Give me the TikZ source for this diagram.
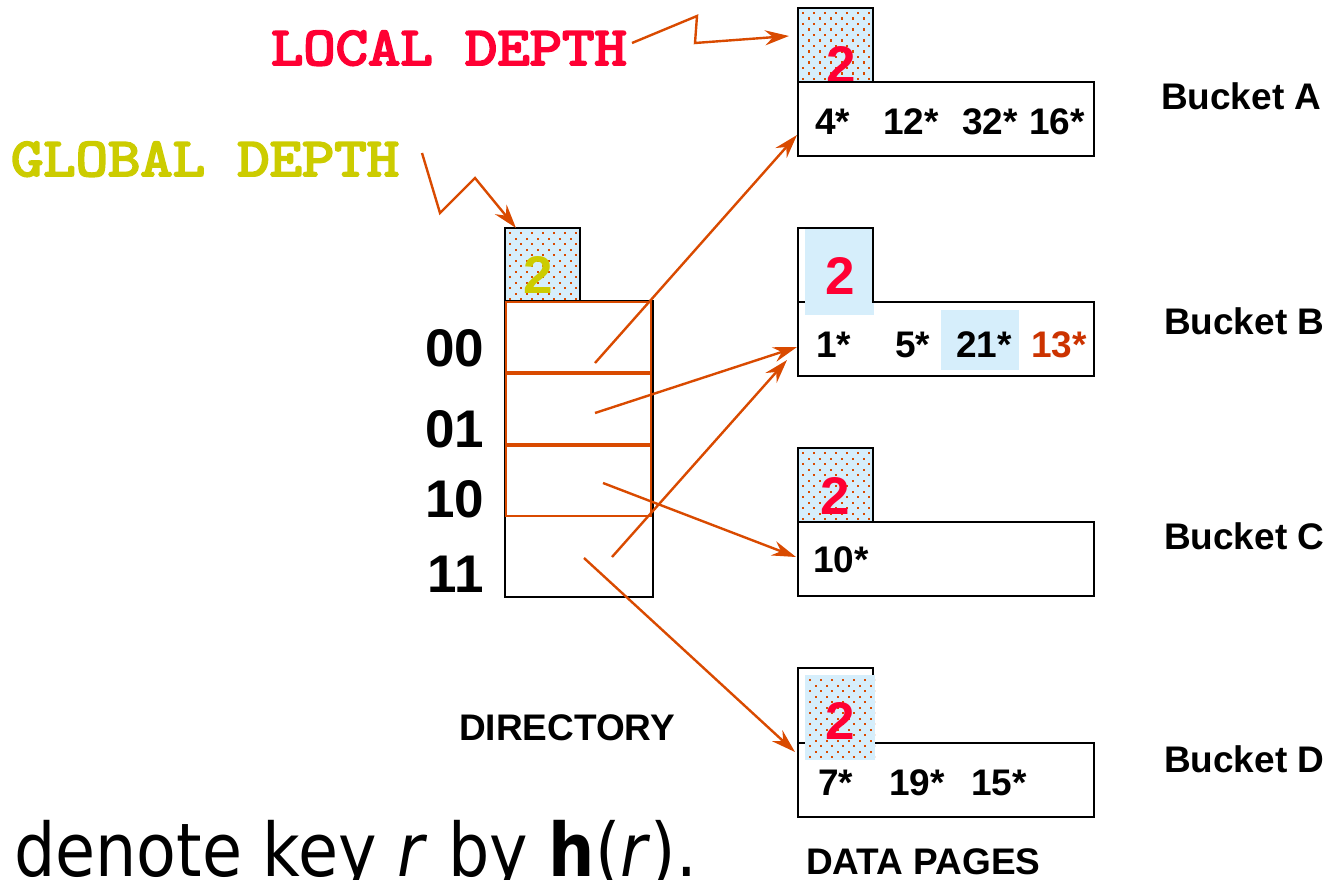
\documentclass[tikz,border=0pt]{standalone}
\usepackage{fontspec}
\setmainfont{Liberation Sans}
\newfontfamily\slidefont{DejaVu Sans}[FakeStretch=0.88,BoldFont={DejaVu Sans Bold},ItalicFont={DejaVu Sans Oblique}]
\newfontfamily\typefont{lmmono10-regular.otf}[FakeBold=3.5]
\usetikzlibrary{arrows.meta}

\definecolor{linkc}{RGB}{217,74,0}
\definecolor{depthred}{RGB}{255,0,51}
\definecolor{depthyel}{RGB}{204,204,0}
\definecolor{paleblue}{RGB}{214,238,251}
\definecolor{keyred}{RGB}{204,51,0}

% pale blue patch sprinkled with small orange dots
\newcommand\speckle[4]{%
  \fill[paleblue] (#1,#2) rectangle (#3,#4);
  \begin{scope}
    \clip (#1,#2) rectangle (#3,#4);
    \foreach \r in {0,...,17}{
      \foreach \c in {0,...,7}{
        \fill[linkc] ({#1+4+11*\c+5.5*mod(\r,2)},{#2+4+5.5*\r}) rectangle +(2.2,2.2);
      }
    }
  \end{scope}}

% wide typewriter lettering for the depth tags
\newcommand\widetag[1]{\scalebox{1.12}[1]{#1}}

\tikzset{
  link/.style={draw=linkc, line width=2.4pt, line join=miter,
    -{Stealth[length=24pt,width=15pt,inset=8pt]}},
  boxline/.style={draw=black, line width=2.5pt, line cap=rect},
  cellline/.style={draw=linkc, line width=2.5pt},
  page/.style={rectangle, draw=black, line width=2.5pt, fill=white,
    anchor=north west, minimum width=296pt, minimum height=74pt},
  dirbox/.style={rectangle, draw=black, line width=2.5pt,
    anchor=north west, minimum width=148pt, minimum height=296pt},
  depthnum/.style={font=\bfseries\fontsize{53}{56}\selectfont},
  keyval/.style={anchor=base west, font=\bfseries\fontsize{37}{40}\selectfont},
  dirlabel/.style={anchor=base east, font=\bfseries\fontsize{53}{56}\selectfont},
  caption/.style={anchor=base west, font=\bfseries\fontsize{37}{40}\selectfont},
  depthtag/.style={anchor=base west, font=\typefont\fontsize{55}{58}\selectfont},
}

\begin{document}
\begin{tikzpicture}[x=1pt,y=-1pt,every node/.style={inner sep=0pt,outer sep=0pt}]
\useasboundingbox (0,0) rectangle (1330,880);

% ---------------- directory ----------------
\speckle{505}{228}{580}{301}
\draw[boxline] (505,228) rectangle (580,301);
\node[depthnum, text=depthyel] (gdnum) at (538.5,275) {2};
\node[dirbox] (dir) at (505,301) {};
\draw[cellline] (506,302) rectangle (651,516);
\draw[cellline, line width=4pt] (506,373) -- (651,373);
\draw[cellline, line width=4pt] (506,445) -- (651,445);

\node[dirlabel] (l00) at (484,366) {00};
\node[dirlabel] (l01) at (484,447) {01};
\node[dirlabel] (l10) at (484,517) {10};
\node[dirlabel] (l11) at (484,592) {11};

\node[caption] (dircap) at (459,740) {DIRECTORY};

% ---------------- bucket A ----------------
\speckle{798}{8}{873}{82}
\draw[boxline] (798,8) rectangle (873,82);
\node[depthnum, text=depthred] (dA) at (841,65) {2};
\node[page] (bA) at (798,82) {};
\node[keyval] (a1) at (815,135) {4*};
\node[keyval] (a2) at (883,135) {12*};
\node[keyval] (a3) at (962,135) {32*};
\node[keyval] (a4) at (1029,135) {16*};
\node[caption] (capA) at (1161,110) {Bucket A};

% ---------------- bucket B ----------------
\node[page] (bB) at (798,302) {};
\fill[paleblue] (805,228) rectangle (874,315);
\draw[boxline] (798,302) -- (798,228) -- (873,228) -- (873,302);
\node[depthnum, text=depthred] (dB) at (840,276) {2};
\fill[paleblue] (941,310) rectangle (1019,370);
\node[keyval] (b1) at (816,357) {1*};
\node[keyval] (b2) at (895,357) {5*};
\node[keyval] (b3) at (956,357) {21*};
\node[keyval, text=keyred] (b4) at (1031,357) {13*};
\node[caption] (capB) at (1164,334) {Bucket B};

% ---------------- bucket C ----------------
\speckle{798}{448}{873}{522}
\draw[boxline] (798,448) rectangle (873,522);
\node[depthnum, text=depthred] (dC) at (835,496) {2};
\node[page] (bC) at (798,522) {};
\node[keyval] (c1) at (813,572) {10*};
\node[caption] (capC) at (1164,549) {Bucket C};

% ---------------- bucket D ----------------
\node[page] (bD) at (798,743) {};
\draw[boxline] (798,743) -- (798,668) -- (873,668) -- (873,743);
\speckle{805}{675}{875}{760}
\node[depthnum, text=depthred] (dD) at (840,720.5) {2};
\node[keyval] (d1) at (818,795) {7*};
\node[keyval] (d2) at (889,795) {19*};
\node[keyval] (d3) at (971,795) {15*};
\node[caption] (capD) at (1164,772) {Bucket D};

\node[caption] (pagecap) at (806,874) {DATA PAGES};

% ---------------- depth tags ----------------
\node[depthtag, text=depthred] (localtag) at (271,65) {\widetag{LOCAL DEPTH}};
\node[depthtag, text=depthyel] (globaltag) at (11,176) {\widetag{GLOBAL DEPTH}};

\coordinate (lt0) at (632,43);
\coordinate (lt1) at (697,16);
\coordinate (lt2) at (695,43);
\coordinate (ltA) at (789,36);
\draw[link] (lt0) -- (lt1) -- (lt2) -- (ltA);

\coordinate (gt0) at (422,153);
\coordinate (gt1) at (440,213);
\coordinate (gt2) at (475,178);
\coordinate (gtD) at (516,228);
\draw[link] (gt0) -- (gt1) -- (gt2) -- (gtD);

% ---------------- directory pointers ----------------
\coordinate (s00) at (595,363);
\coordinate (s01) at (595,413);
\coordinate (s10) at (603,483);
\coordinate (s11a) at (612,557);
\coordinate (s11b) at (584,558);
\coordinate (tA) at (797,135);
\coordinate (tB1) at (797,347);
\coordinate (tB2) at (787,360);
\coordinate (tC) at (796,557);
\coordinate (tD) at (795,752);
\draw[link] (s00) -- (tA);
\draw[link] (s01) -- (tB1);
\draw[link] (s10) -- (tC);
\draw[link] (s11a) -- (tB2);
\draw[link] (s11b) -- (tD);

% ---------------- running text ----------------
\node[anchor=base west, font=\slidefont\fontsize{74}{80}\selectfont] (note) at (14,876)
  {denote key \textit{r} by \textbf{h}(\textit{r}).};
\end{tikzpicture}
\end{document}
